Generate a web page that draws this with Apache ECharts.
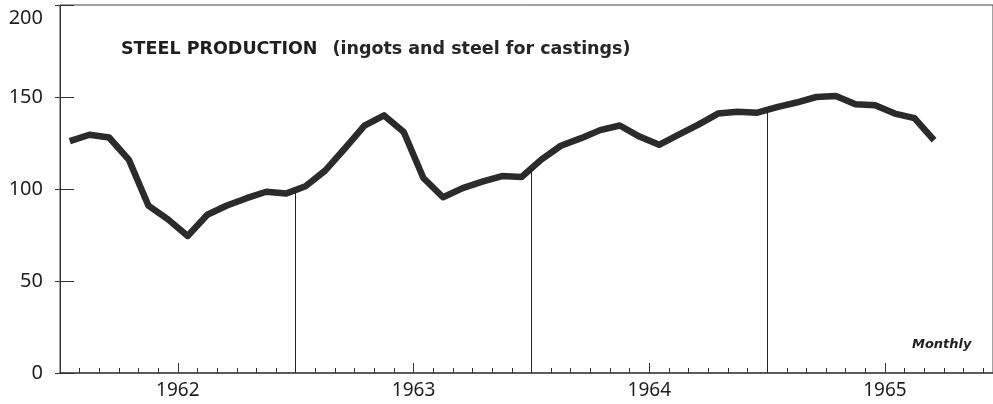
<!DOCTYPE html>
<html>
<head>
<meta charset="utf-8">
<script src="https://cdn.jsdelivr.net/npm/echarts@6/dist/echarts.min.js"></script>
<style>
  html, body { margin: 0; padding: 0; background: #fff; }
  #main { width: 993px; height: 404px; }
</style>
</head>
<body>
<div id="main"></div>
<script>
// monthly steel production, Jan 1962 .. Sep 1965
var startYear = 1962;
var steelValues = [126, 129.5, 128, 116, 91, 83.5, 74.5, 86, 91, 95, 98.5, 97.5,
                   101.5, 110, 122, 134.5, 140, 131, 106, 95.5, 100.5, 104, 107, 106.5,
                   116, 123.5, 127.5, 132, 134.5, 128.5, 124, 129.5, 135, 141, 142, 141.5,
                   144.5, 147, 150, 150.5, 146, 145.5, 141, 138.5, 126.5];
var yearLabels = ['1962', '1963', '1964', '1965'];
var yTicks = [0, 50, 100, 150, 200];

function buildSeriesData(vals){
    var out = [];
    for (var i = 0; i < vals.length; i++) {
        out.push([i + 0.5, vals[i]]);   // month centred in its slot
    }
    return out;
}

// vertical rule at each year end, from the axis up to the curve
function buildDividers(vals){
    var lines = [];
    for (var m = 12; m < vals.length; m += 12) {
        var v = (vals[m - 1] + vals[m]) / 2;
        lines.push([{coord: [m, 0]}, {coord: [m, v]}]);
    }
    return lines;
}

function initChart(){
    var myChart = echarts.init(document.getElementById('main'));
    var yearPos = [];
    for (var i = 0; i < yearLabels.length; i++) yearPos.push(6 + 12 * i);
    var textFont = 'Noto Sans';

    var option = {
        backgroundColor: '#fff',
        animation: false,
        title: [{
            left: 116, top: 35,
            text: '{b|STEEL PRODUCTION}   {n|(ingots and steel for castings)}',
            textStyle: {
                rich: {
                    b: {fontFamily: 'DejaVu Sans', fontWeight: 'bold', fontSize: 17.5, color: '#1e1e1e'},
                    n: {fontFamily: 'DejaVu Sans', fontWeight: 'bold', fontSize: 17.5, color: '#262626'}
                }
            }
        }, {
            left: 907, top: 333,
            text: 'Monthly',
            textStyle: {fontFamily: 'DejaVu Sans', fontWeight: 'bold', fontStyle: 'italic', fontSize: 13, color: '#222'}
        }],
        grid: {
            left: 60, top: 5, width: 934, height: 368,
            show: true, borderColor: '#444', borderWidth: 1
        },
        xAxis: [{
            type: 'value', min: 0, max: 47.5, interval: 1,
            position: 'bottom',
            axisLine: {show: true, lineStyle: {color: '#444', width: 1.5}},
            axisTick: {show: true, inside: true, length: 5, lineStyle: {color: '#333'}},
            axisLabel: {show: false},
            splitLine: {show: false}
        }, {
            type: 'value', min: 0, max: 47.5,
            position: 'bottom',
            axisLine: {show: false},
            axisTick: {show: true, inside: true, length: 10, customValues: yearPos, lineStyle: {color: '#333'}},
            axisLabel: {
                show: true, customValues: yearPos, margin: 8,
                fontFamily: textFont, fontSize: 19, color: '#1e1e1e',
                formatter: function(v){ return yearLabels[Math.round((v - 6) / 12)]; }
            },
            splitLine: {show: false}
        }],
        yAxis: [{
            type: 'value', min: yTicks[0], max: yTicks[yTicks.length - 1], interval: 50,
            position: 'left',
            axisLine: {show: true, lineStyle: {color: '#333', width: 1}},
            axisTick: {show: true, inside: true, length: 14, lineStyle: {color: '#333'}},
            axisLabel: {
                margin: 17, fontFamily: textFont, fontSize: 20, color: '#1e1e1e',
                formatter: function(v){ return v == 200 ? '{t|' + v + '}' : '' + v; },
                rich: {t: {fontFamily: textFont, fontSize: 20, color: '#1e1e1e', padding: [27, 0, 0, 0]}}
            },
            splitLine: {show: false}
        }, {
            type: 'value', min: yTicks[0], max: yTicks[yTicks.length - 1], interval: 50,
            position: 'right',
            axisLine: {show: false},
            axisTick: {show: true, inside: true, length: 5, lineStyle: {color: '#333'}},
            axisLabel: {show: false},
            splitLine: {show: false}
        }],
        series: [{
            type: 'line',
            xAxisIndex: 0, yAxisIndex: 0,
            data: buildSeriesData(steelValues),
            symbol: 'none',
            lineStyle: {color: '#2b2b2b', width: 6.5, join: 'round'},
            z: 3,
            markLine: {
                silent: true,
                symbol: 'none',
                label: {show: false},
                lineStyle: {color: '#222', width: 1, type: 'solid'},
                data: buildDividers(steelValues)
            }
        }]
    };
    myChart.setOption(option);
}
initChart();
</script>
</body>
</html>
